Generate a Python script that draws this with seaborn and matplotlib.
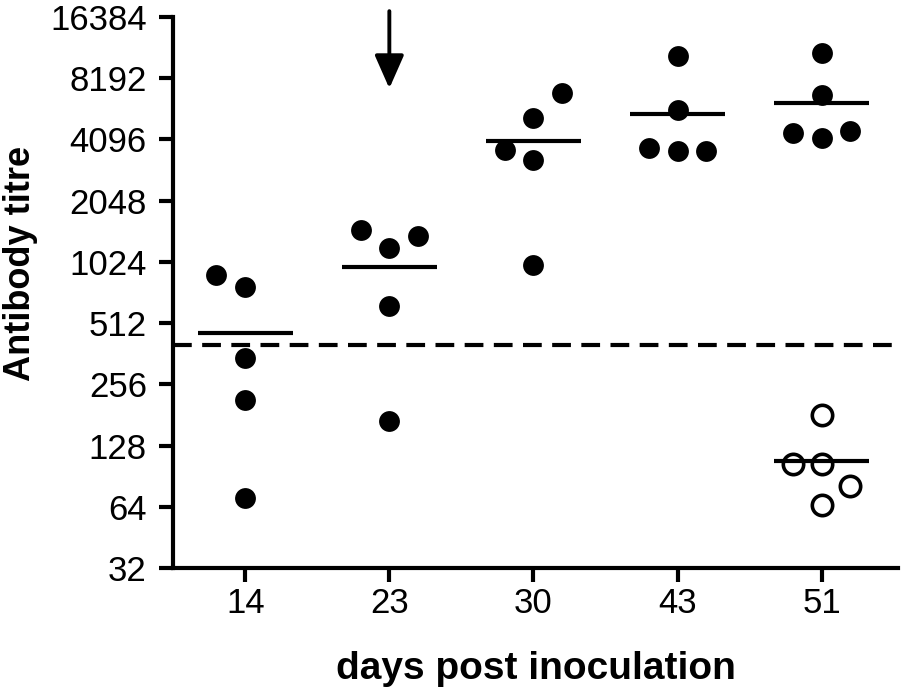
import numpy as np
import pandas as pd
import matplotlib
matplotlib.use("Agg")
import matplotlib.pyplot as plt
import seaborn as sns

# days post inoculation (categories)
days = ["14", "23", "30", "43", "51"]

# antibody titres (filled = responders, open = day 51 low group)
titre_d14 = [884, 771, 345, 214, 71]
titre_d23 = [1471, 1200, 1375, 622, 169]
titre_d30 = [3640, 5232, 6943, 3251, 990]
titre_d43 = [10560, 5729, 3725, 3600, 3600]
titre_d51 = [10930, 6790, 4414, 4517, 4170]
titre_d51_open = [181, 104, 104, 81, 65]

cutoff = 400
y_ticks = [32, 64, 128, 256, 512, 1024, 2048, 4096, 8192, 16384]

# horizontal spread of points inside a category (layout only)
spread = {
    ("14", "filled"): [-0.2, 0, 0, 0, 0],
    ("23", "filled"): [-0.2, 0, 0.2, 0, 0],
    ("30", "filled"): [-0.2, 0, 0.2, 0, 0],
    ("43", "filled"): [0, 0, -0.2, 0, 0.2],
    ("51", "filled"): [0, 0, -0.2, 0.2, 0],
    ("51", "open"): [0, -0.2, 0, 0.2, 0],
}

groups = [
    ("14", "filled", titre_d14),
    ("23", "filled", titre_d23),
    ("30", "filled", titre_d30),
    ("43", "filled", titre_d43),
    ("51", "filled", titre_d51),
    ("51", "open", titre_d51_open),
]

rows = []
for day, kind, vals in groups:
    for v, off in zip(vals, spread[(day, kind)]):
        rows.append({"day": day, "kind": kind, "titre": v,
                     "x": days.index(day) + off})
df = pd.DataFrame(rows)

sns.set_theme(style="ticks")
plt.rcParams["font.family"] = ["Liberation Sans", "DejaVu Sans"]

fig = plt.figure(figsize=(9.02, 6.87), dpi=100)
ax = fig.add_axes([0.192, 0.1732, 0.8036, 0.8021])

filled = df[df["kind"] == "filled"]
opened = df[df["kind"] == "open"]
sns.scatterplot(data=filled, x="x", y="titre", ax=ax, s=225,
                color="black", edgecolor="black", linewidth=0, zorder=3)
sns.scatterplot(data=opened, x="x", y="titre", ax=ax, s=215,
                facecolor="white", edgecolor="black", linewidth=2.6, zorder=3)

# mean lines
means = df.groupby(["day", "kind"])["titre"].mean()
for (day, kind), m in means.items():
    xi = days.index(day)
    ax.hlines(m, xi - 0.33, xi + 0.33, color="black", lw=3, zorder=4)

ax.axhline(cutoff, color="black", lw=3, ls=(0, (4.5, 2.5)), zorder=2)

ax.set_yscale("log", base=2)
ax.set_ylim(32, 16384)
ax.set_yticks(y_ticks)
ax.set_yticklabels([str(t) for t in y_ticks])
ax.minorticks_off()
ax.set_xlim(-0.5, 4.53)
ax.set_xticks(range(len(days)))
ax.set_xticklabels(days)

ax.annotate("", xy=(1, 7300), xytext=(1, 17500), xycoords="data",
            annotation_clip=False,
            arrowprops=dict(arrowstyle="-|>,head_length=1.7,head_width=0.75",
                            color="black", lw=2.8, shrinkA=0, shrinkB=0))

for side in ["top", "right"]:
    ax.spines[side].set_visible(False)
for side in ["left", "bottom"]:
    ax.spines[side].set_linewidth(3)
    ax.spines[side].set_color("black")
ax.tick_params(axis="both", length=10, width=3, color="black",
               labelsize=25, labelcolor="black")
ax.tick_params(axis="y", pad=9)
ax.tick_params(axis="x", pad=4)

ax.set_xlabel("days post inoculation", fontsize=28, fontweight="bold",
              color="black", labelpad=22)
ax.set_ylabel("Antibody titre", fontsize=26, fontweight="bold", color="black")
ax.yaxis.set_label_coords(-0.187, 0.553)

fig.savefig("out.png", dpi=100)
